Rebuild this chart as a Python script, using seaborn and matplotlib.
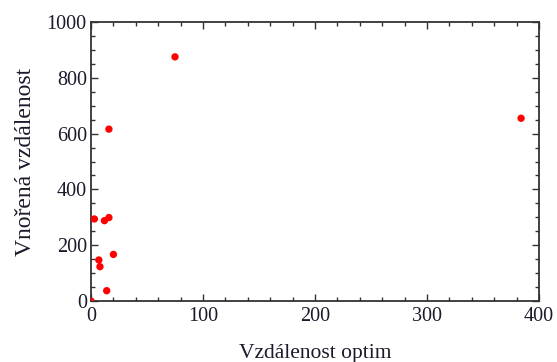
import numpy as np
import pandas as pd
import matplotlib
matplotlib.use("Agg")
import matplotlib.pyplot as plt
import seaborn as sns
from matplotlib.ticker import MultipleLocator

optim_dist = [0, 3, 7, 8, 12, 16, 16, 14, 20, 75, 384]
embed_dist = [0, 294, 147, 123, 288, 299, 616, 37, 167, 875, 655]
x_label = "Vzdálenost optim"
y_label = "Vnořená vzdálenost"

df = pd.DataFrame({"x": optim_dist, "y": embed_dist})

sns.set_style("ticks")
plt.rcParams["font.family"] = ["Liberation Serif", "DejaVu Serif"]

fig = plt.figure(figsize=(5.57, 3.62), dpi=100)
ax = fig.add_axes([91 / 557, 1 - 301 / 362, 448 / 557, 279 / 362])

sns.scatterplot(data=df, x="x", y="y", ax=ax, color="#ff0000", s=28,
                edgecolor="none", linewidth=0, zorder=3)

ax.set_xlim(0, 400)
ax.set_ylim(0, 1000)
ax.xaxis.set_major_locator(MultipleLocator(100))
ax.xaxis.set_minor_locator(MultipleLocator(20))
ax.yaxis.set_major_locator(MultipleLocator(200))
ax.yaxis.set_minor_locator(MultipleLocator(50))
ax.tick_params(which="both", direction="in", top=True, right=True,
               colors="#333333", labelcolor="#1a1a2a", labelsize=14.5, width=1)
ax.tick_params(which="major", length=5, pad=3)
ax.tick_params(which="minor", length=3)
ax.tick_params(axis="x", which="major", pad=4)
for sp in ax.spines.values():
    sp.set_color("#333333")
    sp.set_linewidth(1.3)

ax.set_xlabel(x_label, fontsize=15.5, color="#1a1a2a", labelpad=13)
ax.set_ylabel(y_label, fontsize=17, color="#1a1a2a", labelpad=8)

fig.savefig("out.png", dpi=100)
